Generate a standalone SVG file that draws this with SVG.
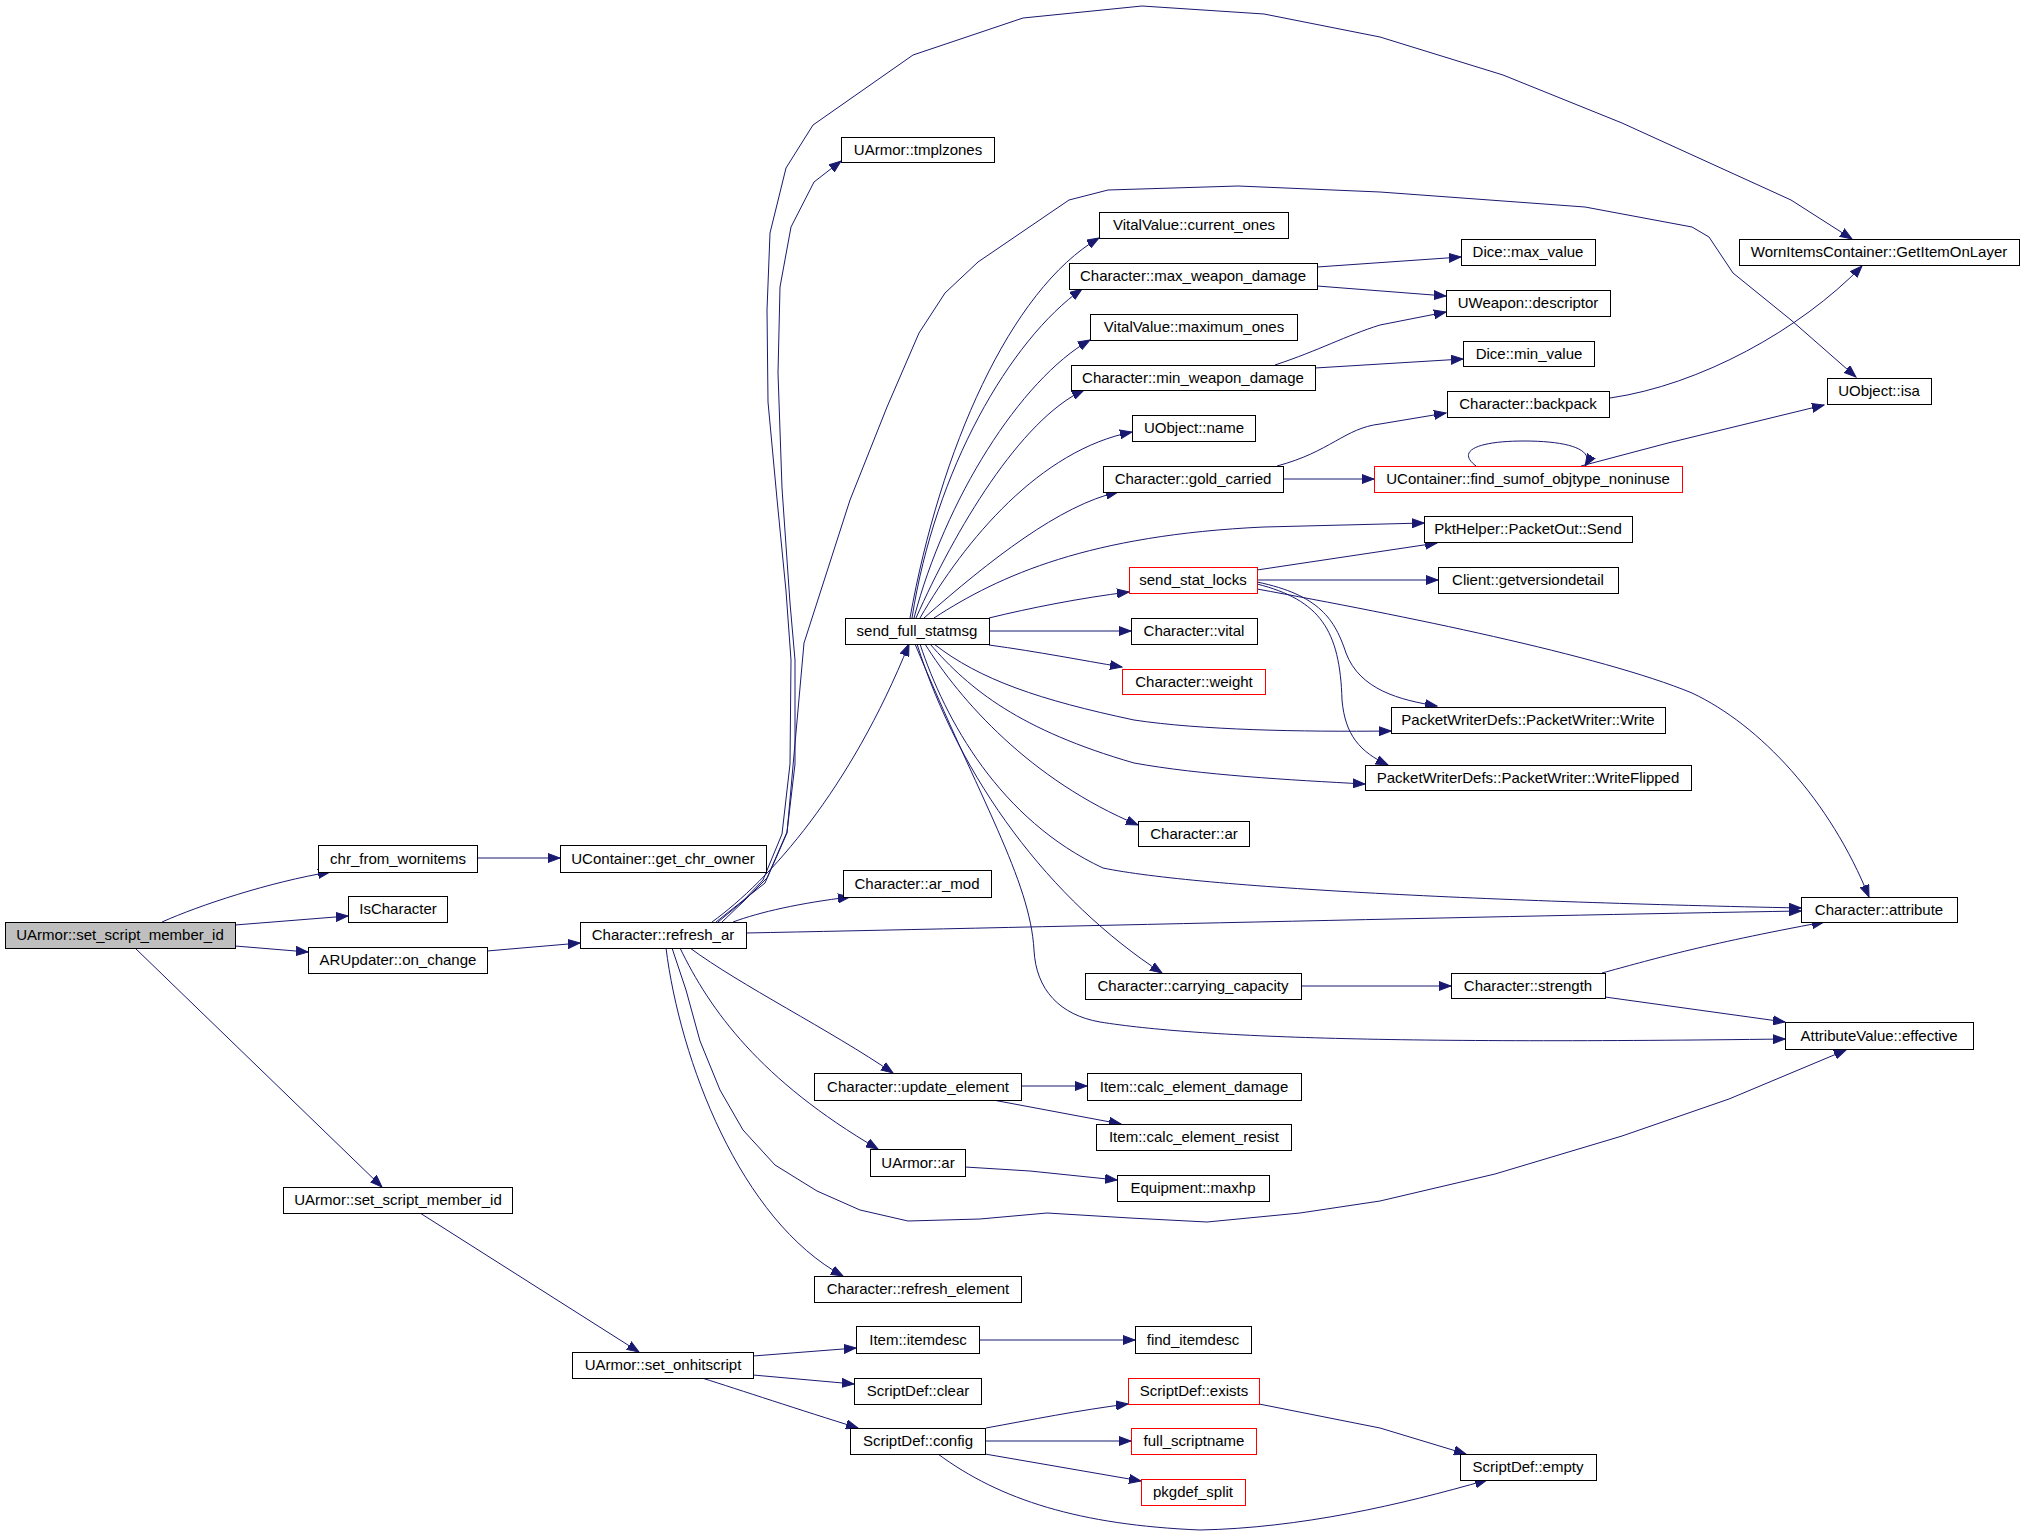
<svg xmlns="http://www.w3.org/2000/svg" width="2024" height="1535" viewBox="0 0 2024 1535">
<style>
.node rect{fill:#fff;stroke:#000;stroke-width:1}
.node.main rect{fill:#bfbfbf}
.node.red rect{stroke:#ff0000}
.node text{font-family:"Liberation Sans",Arial,sans-serif;font-size:15px;text-anchor:middle;fill:#000}
.edges path{fill:none;stroke:#191970;stroke-width:1;marker-end:url(#arr)}
</style>
<defs>
<marker id="arr" markerWidth="13" markerHeight="10" refX="12" refY="5" orient="auto" markerUnits="userSpaceOnUse">
<path d="M0,0.5 L12,5 L0,9.5 Z" fill="#191970" stroke="#191970" stroke-width="1"/>
</marker>
</defs>
<rect width="2024" height="1535" fill="#fff"/>
<g class="edges" id="edges">
<path d="M162,922 C200,905 270,882 330,872"/>
<path d="M235,925 L348,916"/>
<path d="M235,946 L308,952"/>
<path d="M135,948 L382,1187"/>
<path d="M477,858 L560,858"/>
<path d="M487,951 L580,943"/>
<path d="M420,1213 L639,1352"/>
<path d="M733,922 C760,912 800,903 850,897"/>
<path d="M746,933 C1000,928 1500,916 1801,911"/>
<path d="M712,922 C770,880 850,790 909,644"/>
<path d="M722,922 L745,900 L767,878 L787,832 L795,764 L795,660 L790,603 L782,488 L778,373 L780,287 L791,227 L814,182 L841,161"/>
<path d="M718,922 L742,902 L763,880 L782,834 L790,764 L791,660 L786,591 L777,499 L768,402 L767,310 L770,233 L786,168 L813,125 L913,55 L1023,18 L1142,6 L1264,14 L1380,37 L1503,75 L1622,123 L1791,200 L1852,239"/>
<path d="M716,922 L765,883 L787,833 L804,643 L850,500 L887,407 L919,333 L945,293 L978,262 L1069,200 L1108,190 L1238,186 L1380,192 L1585,207 L1692,227 L1709,237 L1733,273 L1791,320 L1856,377"/>
<path d="M690,948 C740,985 830,1030 893,1073"/>
<path d="M680,948 C710,1010 760,1080 878,1149"/>
<path d="M672,948 L686,990 L700,1041 L720,1090 L743,1130 L775,1165 L817,1191 L860,1210 L908,1221 L980,1219 L1047,1213 L1130,1218 L1207,1222 L1300,1213 L1380,1201 L1495,1174 L1622,1136 L1729,1099 L1846,1050"/>
<path d="M666,948 C680,1060 740,1220 843,1276"/>
<path d="M989,618 C1030,608 1080,598 1129,592"/>
<path d="M989,631 L1131,631"/>
<path d="M989,645 C1040,652 1080,660 1122,667"/>
<path d="M934,644 C980,680 1040,700 1134,720 C1200,730 1300,732 1391,731"/>
<path d="M930,644 C970,690 1020,730 1134,763 C1200,775 1290,780 1365,784"/>
<path d="M925,644 C960,700 1030,780 1138,825"/>
<path d="M920,644 C945,720 1000,820 1103,868 C1200,888 1500,902 1801,908"/>
<path d="M917,644 C960,780 1050,900 1162,973"/>
<path d="M915,644 C980,800 1030,880 1034,950 C1036,990 1060,1015 1100,1022 C1200,1038 1400,1044 1785,1039"/>
<path d="M910,618 C940,450 1010,290 1099,238"/>
<path d="M912,618 C935,470 1010,340 1082,289"/>
<path d="M914,618 C945,500 1020,380 1090,340"/>
<path d="M916,618 C955,530 1020,420 1084,390"/>
<path d="M920,618 C965,540 1040,450 1132,432"/>
<path d="M924,618 C990,560 1060,505 1118,492"/>
<path d="M934,618 C1000,575 1090,535 1264,527 L1424,523"/>
<path d="M1257,570 L1437,543"/>
<path d="M1257,580 L1438,580"/>
<path d="M1257,589 C1400,615 1600,655 1692,693 C1760,725 1830,800 1869,897"/>
<path d="M1257,582 C1320,595 1335,620 1346,653 C1360,690 1400,700 1437,706"/>
<path d="M1257,584 C1320,600 1340,630 1342,700 C1345,735 1360,752 1388,765"/>
<path d="M1283,479 L1374,479"/>
<path d="M1277,466 C1330,452 1345,428 1380,424 L1446,413"/>
<path d="M1317,267 L1461,257"/>
<path d="M1317,286 L1446,296"/>
<path d="M1275,365 C1320,350 1345,336 1380,325 L1446,312"/>
<path d="M1315,368 L1463,359"/>
<path d="M1610,398 C1700,385 1800,330 1862,266"/>
<path d="M1476,466 C1455,450 1480,441 1524,441 C1570,441 1595,450 1585,466"/>
<path d="M1581,466 L1668,443 L1824,405"/>
<path d="M1301,986 L1451,986"/>
<path d="M1602,973 C1650,960 1700,945 1824,922"/>
<path d="M1605,997 L1785,1022"/>
<path d="M1021,1086 L1087,1086"/>
<path d="M993,1100 L1121,1124"/>
<path d="M965,1167 L1030,1171 L1117,1180"/>
<path d="M753,1356 L856,1348"/>
<path d="M753,1375 L854,1384"/>
<path d="M702,1378 C740,1390 800,1410 858,1428"/>
<path d="M979,1340 L1135,1340"/>
<path d="M986,1428 C1030,1420 1080,1410 1128,1404"/>
<path d="M985,1441 L1131,1441"/>
<path d="M985,1454 L1141,1481"/>
<path d="M938,1454 C1000,1500 1080,1525 1200,1530 C1300,1528 1400,1505 1487,1480"/>
<path d="M1259,1404 L1380,1428 L1466,1454"/>
</g>
<g id="n_main" class="node main"><rect x="5.5" y="922.5" width="230" height="26"/><text x="120" y="940">UArmor::set_script_member_id</text></g>
<g id="n_chr_from_wornitems" class="node"><rect x="318.5" y="845.5" width="159" height="27"/><text x="398" y="864">chr_from_wornitems</text></g>
<g id="n_IsCharacter" class="node"><rect x="348.5" y="896.5" width="99" height="26"/><text x="398" y="914">IsCharacter</text></g>
<g id="n_ARUpdater_on_change" class="node"><rect x="308.5" y="947.5" width="179" height="26"/><text x="398" y="965">ARUpdater::on_change</text></g>
<g id="n_get_chr_owner" class="node"><rect x="560.5" y="845.5" width="206" height="27"/><text x="663" y="864">UContainer::get_chr_owner</text></g>
<g id="n_refresh_ar" class="node"><rect x="580.5" y="922.5" width="166" height="26"/><text x="663" y="940">Character::refresh_ar</text></g>
<g id="n_set_script_member_id2" class="node"><rect x="283.5" y="1187.5" width="229" height="26"/><text x="398" y="1205">UArmor::set_script_member_id</text></g>
<g id="n_set_onhitscript" class="node"><rect x="572.5" y="1352.5" width="181" height="26"/><text x="663" y="1370">UArmor::set_onhitscript</text></g>
<g id="n_tmplzones" class="node"><rect x="841.5" y="137.5" width="153" height="25"/><text x="918" y="155">UArmor::tmplzones</text></g>
<g id="n_current_ones" class="node"><rect x="1099.5" y="212.5" width="189" height="26"/><text x="1194" y="230">VitalValue::current_ones</text></g>
<g id="n_max_weapon_damage" class="node"><rect x="1069.5" y="263.5" width="248" height="26"/><text x="1193" y="281">Character::max_weapon_damage</text></g>
<g id="n_maximum_ones" class="node"><rect x="1090.5" y="314.5" width="207" height="26"/><text x="1194" y="332">VitalValue::maximum_ones</text></g>
<g id="n_min_weapon_damage" class="node"><rect x="1071.5" y="365.5" width="244" height="25"/><text x="1193" y="383">Character::min_weapon_damage</text></g>
<g id="n_name" class="node"><rect x="1132.5" y="415.5" width="123" height="26"/><text x="1194" y="433">UObject::name</text></g>
<g id="n_gold_carried" class="node"><rect x="1103.5" y="466.5" width="180" height="26"/><text x="1193" y="484">Character::gold_carried</text></g>
<g id="n_find_sumof" class="node red"><rect x="1374.5" y="466.5" width="308" height="26"/><text x="1528" y="484">UContainer::find_sumof_objtype_noninuse</text></g>
<g id="n_max_value" class="node"><rect x="1461.5" y="239.5" width="134" height="26"/><text x="1528" y="257">Dice::max_value</text></g>
<g id="n_descriptor" class="node"><rect x="1446.5" y="290.5" width="164" height="26"/><text x="1528" y="308">UWeapon::descriptor</text></g>
<g id="n_min_value" class="node"><rect x="1463.5" y="341.5" width="131" height="25"/><text x="1529" y="359">Dice::min_value</text></g>
<g id="n_backpack" class="node"><rect x="1447.5" y="391.5" width="162" height="26"/><text x="1528" y="409">Character::backpack</text></g>
<g id="n_GetItemOnLayer" class="node"><rect x="1739.5" y="239.5" width="280" height="26"/><text x="1879" y="257">WornItemsContainer::GetItemOnLayer</text></g>
<g id="n_isa" class="node"><rect x="1827.5" y="378.5" width="104" height="26"/><text x="1879" y="396">UObject::isa</text></g>
<g id="n_send_stat_locks" class="node red"><rect x="1129.5" y="567.5" width="128" height="26"/><text x="1193" y="585">send_stat_locks</text></g>
<g id="n_send_full_statmsg" class="node"><rect x="845.5" y="618.5" width="144" height="26"/><text x="917" y="636">send_full_statmsg</text></g>
<g id="n_vital" class="node"><rect x="1131.5" y="618.5" width="126" height="26"/><text x="1194" y="636">Character::vital</text></g>
<g id="n_weight" class="node red"><rect x="1122.5" y="669.5" width="143" height="25"/><text x="1194" y="687">Character::weight</text></g>
<g id="n_character_ar" class="node"><rect x="1138.5" y="821.5" width="111" height="25"/><text x="1194" y="839">Character::ar</text></g>
<g id="n_ar_mod" class="node"><rect x="843.5" y="870.5" width="148" height="27"/><text x="917" y="889">Character::ar_mod</text></g>
<g id="n_carrying_capacity" class="node"><rect x="1085.5" y="973.5" width="216" height="26"/><text x="1193" y="991">Character::carrying_capacity</text></g>
<g id="n_PacketOut_Send" class="node"><rect x="1424.5" y="516.5" width="208" height="26"/><text x="1528" y="534">PktHelper::PacketOut::Send</text></g>
<g id="n_getversiondetail" class="node"><rect x="1438.5" y="567.5" width="180" height="26"/><text x="1528" y="585">Client::getversiondetail</text></g>
<g id="n_PacketWriter_Write" class="node"><rect x="1391.5" y="707.5" width="274" height="26"/><text x="1528" y="725">PacketWriterDefs::PacketWriter::Write</text></g>
<g id="n_PacketWriter_WriteFlipped" class="node"><rect x="1365.5" y="765.5" width="326" height="25"/><text x="1528" y="783">PacketWriterDefs::PacketWriter::WriteFlipped</text></g>
<g id="n_attribute" class="node"><rect x="1801.5" y="897.5" width="156" height="25"/><text x="1879" y="915">Character::attribute</text></g>
<g id="n_strength" class="node"><rect x="1451.5" y="973.5" width="154" height="25"/><text x="1528" y="991">Character::strength</text></g>
<g id="n_effective" class="node"><rect x="1785.5" y="1022.5" width="188" height="27"/><text x="1879" y="1041">AttributeValue::effective</text></g>
<g id="n_empty" class="node"><rect x="1460.5" y="1454.5" width="136" height="26"/><text x="1528" y="1472">ScriptDef::empty</text></g>
<g id="n_update_element" class="node"><rect x="814.5" y="1073.5" width="207" height="27"/><text x="918" y="1092">Character::update_element</text></g>
<g id="n_calc_element_damage" class="node"><rect x="1087.5" y="1073.5" width="214" height="27"/><text x="1194" y="1092">Item::calc_element_damage</text></g>
<g id="n_calc_element_resist" class="node"><rect x="1096.5" y="1124.5" width="195" height="26"/><text x="1194" y="1142">Item::calc_element_resist</text></g>
<g id="n_uarmor_ar" class="node"><rect x="870.5" y="1149.5" width="95" height="27"/><text x="918" y="1168">UArmor::ar</text></g>
<g id="n_maxhp" class="node"><rect x="1117.5" y="1175.5" width="152" height="26"/><text x="1193" y="1193">Equipment::maxhp</text></g>
<g id="n_refresh_element" class="node"><rect x="814.5" y="1276.5" width="207" height="26"/><text x="918" y="1294">Character::refresh_element</text></g>
<g id="n_itemdesc" class="node"><rect x="856.5" y="1326.5" width="123" height="27"/><text x="918" y="1345">Item::itemdesc</text></g>
<g id="n_find_itemdesc" class="node"><rect x="1135.5" y="1326.5" width="116" height="27"/><text x="1193" y="1345">find_itemdesc</text></g>
<g id="n_clear" class="node"><rect x="854.5" y="1378.5" width="127" height="26"/><text x="918" y="1396">ScriptDef::clear</text></g>
<g id="n_exists" class="node red"><rect x="1128.5" y="1378.5" width="131" height="26"/><text x="1194" y="1396">ScriptDef::exists</text></g>
<g id="n_config" class="node"><rect x="850.5" y="1428.5" width="135" height="26"/><text x="918" y="1446">ScriptDef::config</text></g>
<g id="n_full_scriptname" class="node red"><rect x="1131.5" y="1428.5" width="125" height="26"/><text x="1194" y="1446">full_scriptname</text></g>
<g id="n_pkgdef_split" class="node red"><rect x="1141.5" y="1479.5" width="104" height="26"/><text x="1193" y="1497">pkgdef_split</text></g>
</svg>
